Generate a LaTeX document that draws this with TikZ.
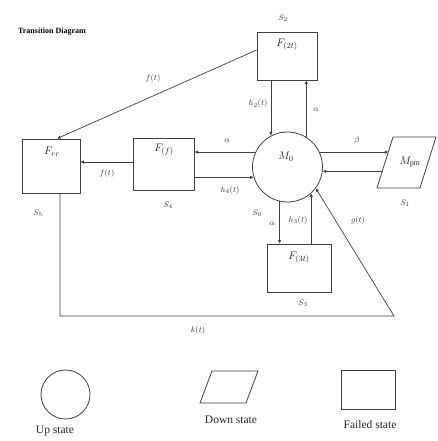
\documentclass[tikz,border=0pt]{standalone}
\usepackage{fontspec}
\setmainfont{Liberation Serif}
\usetikzlibrary{arrows.meta,calc}
\begin{document}
\begin{tikzpicture}[x=1pt,y=-1pt,
  ln/.style={draw=black!75,line width=0.7pt},
  arr/.style={ln,-{Latex[length=3.5pt,width=3.5pt]}},
  box/.style={draw=black!75,line width=0.8pt,inner sep=0pt},
  nt/.style={font=\fontsize{11}{12}\selectfont,inner sep=0pt,text=black!85},
  lab/.style={font=\fontsize{8}{9}\selectfont,inner sep=0pt,text=black!80},
  leg/.style={font=\fontsize{11.5}{12}\selectfont,inner sep=0pt,text=black!85}]
\useasboundingbox (0,0) rectangle (438,441);

\node[font=\bfseries\fontsize{8}{9}\selectfont,inner sep=0pt] (title) at (52,32) {Transition Diagram};

% states
\node[box,minimum width=60pt,minimum height=48pt] (F2) at (287,56) {};
\node[nt] (F2t) at (287,45) {$F_{(2t)}$};
\node[box,minimum width=58pt,minimum height=54pt] (Frr) at (51,166) {};
\node[nt] (Frrt) at (52,152) {$F_{rr}$};
\node[box,minimum width=61pt,minimum height=52pt] (Ff) at (163.5,164) {};
\node[nt] (Fft) at (164,150) {$F_{(f)}$};
\node[circle,box,minimum size=70pt] (M0) at (287.5,167) {};
\node[nt] (M0t) at (286,157) {$M_0$};
\coordinate (pa) at (393,137);
\coordinate (pb) at (436,137);
\coordinate (pc) at (420,188);
\coordinate (pd) at (377,188);
\draw[box] (pa) -- (pb) -- (pc) -- (pd) -- cycle;
\node[nt] (Mpm) at (410,162) {$M_{\mathrm{pm}}$};
\node[box,minimum width=64pt,minimum height=48pt] (F3) at (299,268) {};
\node[nt] (F3t) at (299,258) {$F_{(3t)}$};

% state names
\node[lab] (s2) at (283,18) {$S_2$};
\node[lab] (s5) at (38,213) {$S_5$};
\node[lab] (s4) at (168,205) {$S_4$};
\node[lab] (s1) at (405,203) {$S_1$};
\node[lab] (s3) at (303,303) {$S_3$};
\node[lab] (s0) at (257,213) {$S_0$};

% connectors
\coordinate (e1) at ($(pa)!0.294!(pd)$);
\coordinate (e2) at ($(pa)!0.667!(pd)$);
\draw[arr] ($(F2.west)+(0,-6)$) -- ($(Frr.north)+(6,0)$);
\draw[arr] (F2.south -| M0.118) -- (M0.118);
\draw[arr] (M0.58) -- (M0.58 |- F2.south);
\draw[arr] (M0.155) -- (M0.155 -| Ff.east);
\draw[arr] (Ff.east |- M0.197) -- (M0.197);
\draw[arr] ($(Ff.west)+(0,-2)$) -- ($(Frr.east)+(0,-4)$);
\draw[arr] (M0.25) -- (M0.25 -| e1);
\draw[arr] (M0.353.5 -| e2) -- (M0.353.5);
\draw[arr] (M0.257) -- (M0.257 |- F3.north);
\draw[arr] (F3.north -| M0.312) -- (M0.312);
\coordinate (kc) at (394,316);
\draw[arr] ($(Frr.south)+(9,0)$) |- (kc) -- (M0.323);

% connector labels
\node[lab] (l1) at (153,79) {$f(t)$};
\node[lab] (l2) at (258,104) {$h_2(t)$};
\node[lab] (l3) at (316,110) {$\alpha$};
\node[lab] (l4) at (227,141) {$\alpha$};
\node[lab] (l5) at (230,190) {$h_4(t)$};
\node[lab] (l6) at (107,173) {$f(t)$};
\node[lab] (l7) at (357,140) {$\beta$};
\node[lab] (l8) at (272,224) {$\alpha$};
\node[lab] (l9) at (298,220) {$h_3(t)$};
\node[lab] (l10) at (358,220) {$g(t)$};
\node[lab] (l11) at (198,330) {$k(t)$};

% legend
\node[circle,box,minimum size=49pt] (lc) at (65.5,394.5) {};
\node[leg] (lct) at (55,431) {Up state};
\coordinate (qa) at (212,371);
\coordinate (qb) at (258,371);
\coordinate (qc) at (246,403);
\coordinate (qd) at (200,403);
\draw[box] (qa) -- (qb) -- (qc) -- (qd) -- cycle;
\node[leg] (lpt) at (231,420) {Down state};
\node[box,minimum width=54pt,minimum height=39pt] (lr) at (368,389.5) {};
\node[leg] (lrt) at (370,425) {Failed state};
\end{tikzpicture}
\end{document}
